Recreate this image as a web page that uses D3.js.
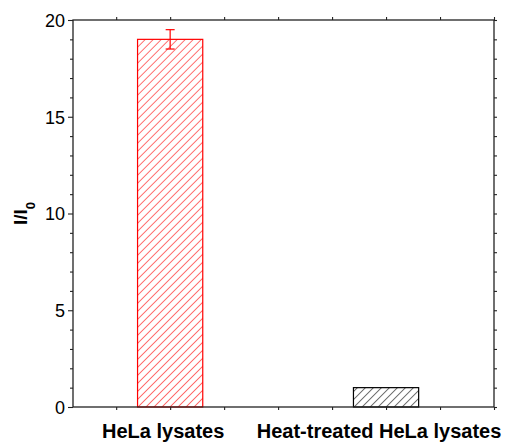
<!DOCTYPE html>
<html>
<head>
<meta charset="utf-8">
<script src="https://cdn.jsdelivr.net/npm/d3@7"></script>
<style>
  body { margin: 0; background: #fff; }
  svg { display: block; font-family: "Liberation Sans", Arial, sans-serif; }
</style>
</head>
<body>
<svg id="chart" width="508" height="447"></svg>
<script>
// Data
const categories = ["HeLa lysates", "Heat-treated HeLa lysates"];
const positions = [1, 2];
const values = [19.0, 1.0];
const errors = [0.5, 0];
const barColors = ["#ff0000", "#000000"];
const yTickLabels = [0, 5, 10, 15, 20];

const W = 508, H = 447;
const margin = { left: 73, right: 14, top: 20, bottom: 40 };
const svg = d3.select("#chart");

const x = d3.scaleLinear().domain([0.55, 2.5]).range([margin.left, W - margin.right]);
const y = d3.scaleLinear().domain([0, 20]).range([H - margin.bottom, margin.top]);
const barW = 0.302;

// hatch patterns
const defs = svg.append("defs");
barColors.forEach((c, i) => {
  const p = defs.append("pattern")
    .attr("id", "hatch" + i)
    .attr("patternUnits", "userSpaceOnUse")
    .attr("width", 5.66).attr("height", 10)
    .attr("patternTransform", "rotate(45)");
  p.append("line")
    .attr("x1", 0).attr("y1", 0).attr("x2", 0).attr("y2", 10)
    .attr("stroke", c).attr("stroke-width", 1.1);
});

// bars
const bars = categories.map((c, i) => ({ c, pos: positions[i], v: values[i], e: errors[i], col: barColors[i], i }));
svg.append("g").selectAll("rect").data(bars).join("rect")
  .attr("x", d => x(d.pos - barW / 2))
  .attr("y", d => y(d.v))
  .attr("width", d => x(d.pos + barW / 2) - x(d.pos - barW / 2))
  .attr("height", d => y(0) - y(d.v))
  .attr("fill", d => `url(#hatch${d.i})`)
  .attr("stroke", d => d.col)
  .attr("stroke-width", 1.2);

// error bars
const eb = svg.append("g").selectAll("g").data(bars.filter(d => d.e > 0)).join("g")
  .attr("stroke", d => d.col).attr("stroke-width", 1.2);
eb.append("line")
  .attr("x1", d => x(d.pos)).attr("x2", d => x(d.pos))
  .attr("y1", d => y(d.v - d.e)).attr("y2", d => y(d.v + d.e));
eb.append("line")
  .attr("x1", d => x(d.pos) - 4.5).attr("x2", d => x(d.pos) + 4.5)
  .attr("y1", d => y(d.v + d.e)).attr("y2", d => y(d.v + d.e));
eb.append("line")
  .attr("x1", d => x(d.pos) - 4.5).attr("x2", d => x(d.pos) + 4.5)
  .attr("y1", d => y(d.v - d.e)).attr("y2", d => y(d.v - d.e));

// axes
const axisColor = "#222";
const yTicks = d3.range(0, 21, 1);
const xTicks = d3.range(0.75, 2.51, 0.25);

function styleAxis(g) {
  g.select(".domain").remove();
  g.selectAll(".tick line").attr("stroke", axisColor).attr("stroke-width", 1.1);
}

const yLeft = svg.append("g").attr("transform", `translate(${margin.left},0)`)
  .call(d3.axisLeft(y).tickValues(yTicks)
    .tickSize(3)
    .tickFormat(d => yTickLabels.includes(d) ? d : ""));
styleAxis(yLeft);
yLeft.selectAll(".tick").filter(d => yTickLabels.includes(d)).select("line").attr("x2", -5);
yLeft.selectAll(".tick text")
  .attr("x", -8).attr("dy", "0.36em")
  .attr("font-size", 18).attr("fill", "#000")
  .attr("font-family", "Liberation Sans, Arial, sans-serif");

const yRight = svg.append("g").attr("transform", `translate(${W - margin.right},0)`)
  .call(d3.axisRight(y).tickValues(yTicks).tickSize(3).tickFormat(""));
styleAxis(yRight);

const xTop = svg.append("g").attr("transform", `translate(0,${margin.top})`)
  .call(d3.axisTop(x).tickValues(xTicks).tickSize(3).tickFormat(""));
styleAxis(xTop);

const xBot = svg.append("g").attr("transform", `translate(0,${H - margin.bottom})`)
  .call(d3.axisBottom(x).tickValues(xTicks).tickSize(3).tickFormat(""));
styleAxis(xBot);

// frame
svg.append("rect")
  .attr("x", margin.left).attr("y", margin.top)
  .attr("width", W - margin.right - margin.left)
  .attr("height", H - margin.bottom - margin.top)
  .attr("fill", "none").attr("stroke", axisColor).attr("stroke-width", 1.3);

// category labels
svg.append("g").selectAll("text").data(bars).join("text")
  .attr("x", d => x(d.pos) - 7)
  .attr("y", H - 9)
  .attr("text-anchor", "middle")
  .attr("font-size", 20).attr("font-weight", "bold").attr("fill", "#000")
  .text(d => d.c);

// y axis title
const yt = svg.append("text")
  .attr("transform", `translate(27,${(margin.top + H - margin.bottom) / 2}) rotate(-90)`)
  .attr("text-anchor", "middle")
  .attr("font-size", 19).attr("font-weight", "bold").attr("fill", "#000");
yt.append("tspan").text("I/I");
yt.append("tspan").attr("baseline-shift", "sub").attr("font-size", 13).text("0");
</script>
</body>
</html>
